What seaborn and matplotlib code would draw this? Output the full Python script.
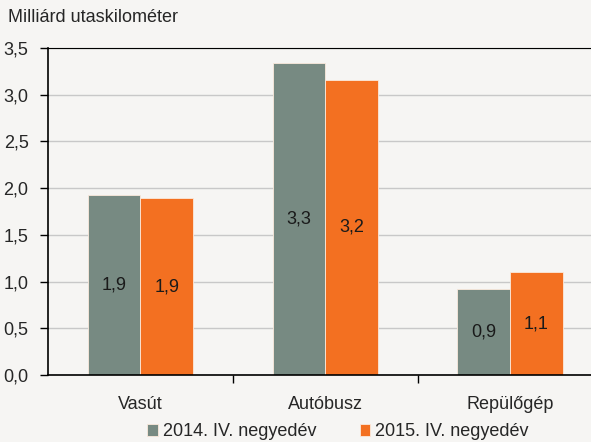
import pandas as pd
import seaborn as sns
import matplotlib.pyplot as plt
from matplotlib.ticker import FuncFormatter, FixedLocator

# -------- data --------
categories = ["Vasút", "Autóbusz", "Repülőgép"]
series = ["2014. IV. negyedév", "2015. IV. negyedév"]
values_2014 = [1.93, 3.34, 0.92]
values_2015 = [1.89, 3.16, 1.10]
labels_2014 = ["1,9", "3,3", "0,9"]
labels_2015 = ["1,9", "3,2", "1,1"]

df = pd.DataFrame({
    "kat": categories * 2,
    "ido": [series[0]] * 3 + [series[1]] * 3,
    "ertek": values_2014 + values_2015,
})

bg = "#f6f5f3"
colors = ["#778a82", "#f37021"]
fs = 13

sns.set_style("white")
plt.rcParams["font.family"] = ["Liberation Sans", "DejaVu Sans"]

fig = plt.figure(figsize=(5.91, 4.42), dpi=100, facecolor=bg)
W, H = 591, 442
ax = fig.add_axes([48 / W, 1 - 375 / H, (602.5 - 48) / W, (375 - 48) / H])
ax.set_facecolor(bg)

sns.barplot(data=df, x="kat", y="ertek", hue="ido", palette=colors,
            width=0.57, gap=0, saturation=1, ax=ax, legend=True,
            edgecolor="#fbe9dc", linewidth=0.6)

# value labels in the middle of the bars
for cont, labs in zip(ax.containers, [labels_2014, labels_2015]):
    ax.bar_label(cont, labels=labs, label_type="center", fontsize=fs, color="#1a1a1a")

ax.set_ylim(0, 3.5)
ax.set_xlim(-0.5, 2.5)
ax.set_yticks([0, 0.5, 1.0, 1.5, 2.0, 2.5, 3.0, 3.5])
ax.yaxis.set_major_formatter(FuncFormatter(lambda v, p: f"{v:.1f}".replace(".", ",")))
ax.yaxis.grid(True, color="#c8c8c8", linewidth=1)
ax.set_axisbelow(True)

ax.tick_params(axis="y", length=6, width=1, color="black", labelsize=fs, pad=8, left=True)
ax.tick_params(axis="x", which="major", length=0, labelsize=fs, pad=15)
ax.xaxis.set_minor_locator(FixedLocator([0.5, 1.5]))
ax.tick_params(axis="x", which="minor", length=6, width=1, color="black", bottom=True)

for s in ["left", "bottom", "top"]:
    ax.spines[s].set_visible(True)
    ax.spines[s].set_color("black")
    ax.spines[s].set_linewidth(1.2)
ax.spines["top"].set_linewidth(0.8)
ax.spines["right"].set_visible(False)

ax.set_xlabel("")
ax.set_ylabel("")

handles, lbls = ax.get_legend_handles_labels()
ax.legend(handles, lbls, loc="center", bbox_to_anchor=(338 / W, 1 - 432 / H),
          bbox_transform=fig.transFigure, ncol=2, frameon=False, fontsize=fs,
          handlelength=0.6, handleheight=0.6, handletextpad=0.25, columnspacing=2.4,
          borderpad=0)

fig.text(8 / W, 1 - 18 / H, "Milliárd utaskilométer", fontsize=fs, va="center", ha="left")

fig.savefig("out.png", dpi=100, facecolor=bg)
